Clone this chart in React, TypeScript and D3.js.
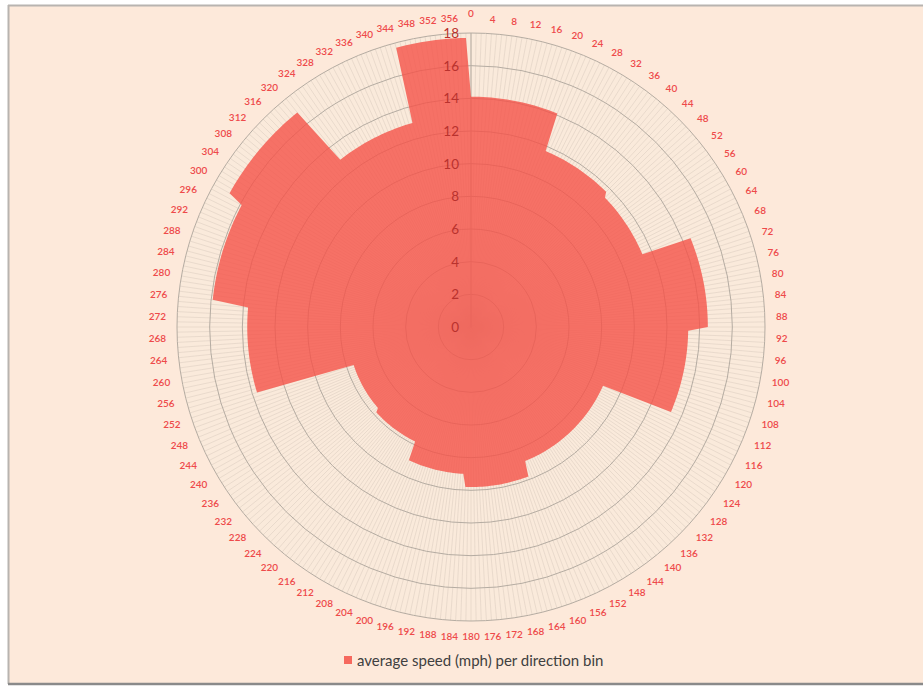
import React from "react";
import * as d3 from "d3";

// Direction bins (degrees, inclusive start) and average speed (mph) per bin
const binStarts = [0, 23, 46, 68, 91, 114, 159, 183, 206, 229, 253, 276, 299, 322, 345];
const binValues = [14.1, 11.7, 11.4, 14.5, 13.3, 8.85, 9.8, 9.0, 7.8, 7.55, 13.7, 15.9, 16.9, 13.0, 17.7];
const radialTicks = [0, 2, 4, 6, 8, 10, 12, 14, 16, 18];
const categoryLabels = d3.range(0, 360, 4).map((d) => String(d));
const seriesName = "average speed (mph) per direction bin";

// expand bins to one value per degree category (0..359)
const degrees = d3.range(0, 360);
const speeds = degrees.map((deg) => {
  let v = binValues[0];
  binStarts.forEach((s, i) => {
    if (deg >= s) v = binValues[i];
  });
  return v;
});

const W = 923;
const H = 686;
const cx = 471;
const cy = 327;
const R = 294;

export default function App() {
  const r = d3.scaleLinear().domain([0, 18]).range([0, R]);
  const ang = d3.scaleLinear().domain([0, 360]).range([0, 2 * Math.PI]);

  const line = d3
    .lineRadial<number>()
    .angle((_, i) => ang(degrees[i]))
    .radius((d) => r(d))
    .curve(d3.curveLinearClosed);

  const fillPath = line(speeds) || "";

  const font = "Lato, 'Open Sans', sans-serif";

  const labelPos = (deg: number, text: string) => {
    const t = (deg * Math.PI) / 180;
    const s = Math.sin(t);
    const c = Math.cos(t);
    const w = text.length * 5.8;
    const h = 8;
    const extra = deg === 0 ? 5 : 0;
    const rr = 305 + extra + Math.abs(s) * w / 2 + Math.abs(c) * h / 2;
    return { x: cx + rr * s, y: cy - rr * c };
  };

  return (
    <svg
      width={W}
      height={H}
      style={{ position: "absolute", left: 0, top: 0 }}
      fontFamily={font}
    >
      <rect x={0} y={0} width={W} height={H} fill="#ffffff" />
      <rect x={9} y={6} width={W - 9} height={677} fill="#FDE9DA" />
      <line x1={8} y1={5.5} x2={W} y2={5.5} stroke="#B8B4B0" strokeWidth={2} />
      <line x1={8.5} y1={5} x2={8.5} y2={684} stroke="#B8B4B0" strokeWidth={2} />
      <line x1={8} y1={684} x2={W} y2={684} stroke="#8A8A8A" strokeWidth={2.5} />

      <g transform={`translate(${cx},${cy})`}>
        <circle r={R} fill="#FAEADB" />
        {degrees.map((d) => {
          const t = ang(d);
          return (
            <line
              key={"sp" + d}
              x1={0}
              y1={0}
              x2={R * Math.sin(t)}
              y2={-R * Math.cos(t)}
              stroke="#D6C9BB"
              strokeOpacity={0.8}
              strokeWidth={0.6}
            />
          );
        })}
        {radialTicks.slice(1).map((v) => (
          <circle key={"g" + v} r={r(v)} fill="none" stroke="#B5ACA2" strokeWidth={1} />
        ))}
        <line x1={0} y1={0} x2={0} y2={-R} stroke="#B5ACA2" strokeWidth={1} />

        <path d={fillPath} fill="rgb(245,82,72)" fillOpacity={0.8} stroke="none" />

        {radialTicks.map((v) => (
          <text
            key={"t" + v}
            x={-12}
            y={-r(v)}
            textAnchor="end"
            dominantBaseline="central"
            fontSize={13.5}
            fill="#B9322E"
          >
            {v}
          </text>
        ))}
      </g>

      {categoryLabels.map((lab) => {
        const p = labelPos(+lab, lab);
        return (
          <text
            key={"c" + lab}
            x={p.x}
            y={p.y}
            textAnchor="middle"
            dominantBaseline="central"
            fontSize={10}
            fontWeight={600}
            fill="#EE4A4A"
          >
            {lab}
          </text>
        );
      })}

      <rect x={344} y={656} width={8} height={8} fill="rgb(245,82,72)" fillOpacity={0.85} />
      <text x={357} y={660} dominantBaseline="central" fontSize={15} fill="#404040">
        {seriesName}
      </text>
    </svg>
  );
}
